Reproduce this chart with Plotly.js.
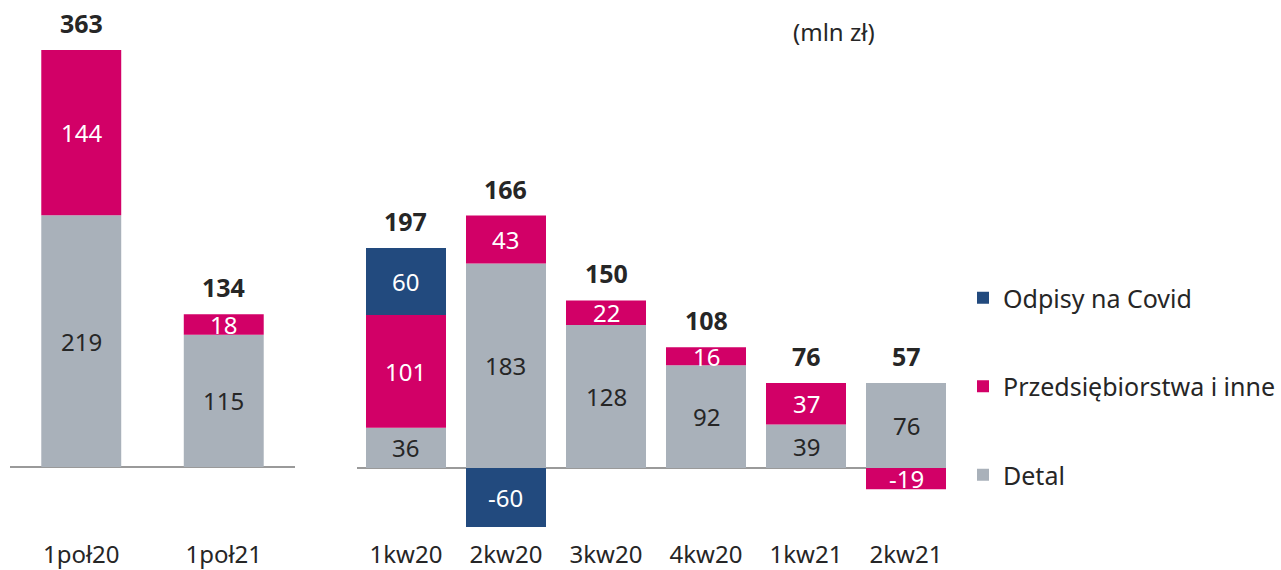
<!DOCTYPE html>
<html>
<head>
<meta charset="utf-8">
<script src="https://cdn.plot.ly/plotly-3.0.1.min.js"></script>
<style>
html,body{margin:0;padding:0;background:#fff;}
#chart{width:1281px;height:570px;}
</style>
</head>
<body>
<div id="chart"></div>
<script>
// ---- data ----
const categoriesHalf = ['1poł20', '1poł21'];
const categoriesQuarter = ['1kw20', '2kw20', '3kw20', '4kw20', '1kw21', '2kw21'];

const detalHalf = [219, 115];
const przedsiebiorstwaHalf = [144, 18];
const covidHalf = [null, null];
const totalsHalf = [363, 134];

const detalQuarter = [36, 183, 128, 92, 39, 76];
const przedsiebiorstwaQuarter = [101, 43, 22, 16, 37, -19];
const covidQuarter = [60, -60, null, null, null, null];
const totalsQuarter = [197, 166, 150, 108, 76, 57];

const seriesNames = ['Detal', 'Przedsiębiorstwa i inne', 'Odpisy na Covid'];
const unitLabel = '(mln zł)';

// ---- styles ----
const FONT = 'Noto Sans, sans-serif';
const TXT = '#262626';
const colors = ['#A9B1BA', '#D20067', '#224A7E'];
const labelColors = [TXT, '#FFFFFF', '#FFFFFF'];
const legendRanks = [3, 2, 1];

const halfSeries = [detalHalf, przedsiebiorstwaHalf, covidHalf];
const quarterSeries = [detalQuarter, przedsiebiorstwaQuarter, covidQuarter];

const W = 1281, H = 570;
const yRangeHalf = [-(H - 467) / 1.149, 467 / 1.149];
const yRangeQuarter = [-(527 - 468) / 1.117, 468 / 1.117];

const traces = [];
const groups = ['d', 'p', 'c'];
for (let s = 0; s < 3; s++) {
  traces.push({
    type: 'bar', x: categoriesHalf, y: halfSeries[s], xaxis: 'x', yaxis: 'y',
    name: seriesNames[s], legendgroup: groups[s], showlegend: s !== 2,
    legendrank: legendRanks[s],
    marker: {color: colors[s], line: {width: 0}}, width: 0.561,
    hoverinfo: 'x+y+name'
  });
  traces.push({
    type: 'bar', x: categoriesQuarter, y: quarterSeries[s], xaxis: 'x2', yaxis: 'y2',
    name: seriesNames[s], legendgroup: groups[s], showlegend: s === 2,
    legendrank: legendRanks[s],
    marker: {color: colors[s], line: {width: 0}}, width: 0.8,
    hoverinfo: 'x+y+name'
  });
}

const annotations = [];
function addLabels(cats, series, totals, xref, yref, yMin) {
  cats.forEach((c, i) => {
    let pos = 0, neg = 0;
    series.forEach((arr, s) => {
      const v = arr[i];
      if (v === null || v === undefined) return;
      let mid;
      if (v >= 0) { mid = pos + v / 2; pos += v; }
      else { const lo = Math.max(neg + v, yMin); mid = (neg + lo) / 2; neg += v; }
      annotations.push({
        x: c, y: mid, xref: xref, yref: yref, text: String(v), showarrow: false,
        font: {family: FONT, size: 24, color: labelColors[s]},
        xanchor: 'center', yanchor: 'middle'
      });
    });
    annotations.push({
      x: c, y: pos, xref: xref, yref: yref, text: '<b>' + totals[i] + '</b>', showarrow: false,
      font: {family: FONT, size: 25, color: TXT},
      xanchor: 'center', yanchor: 'middle', yshift: 27
    });
  });
}
addLabels(categoriesHalf, halfSeries, totalsHalf, 'x', 'y', yRangeHalf[0]);
addLabels(categoriesQuarter, quarterSeries, totalsQuarter, 'x2', 'y2', yRangeQuarter[0]);

annotations.push({
  x: 834 / W, y: 1 - 32 / H, xref: 'paper', yref: 'paper', text: unitLabel,
  showarrow: false, font: {family: FONT, size: 24, color: TXT},
  xanchor: 'center', yanchor: 'middle'
});

const layout = {
  width: W, height: H,
  margin: {l: 0, r: 0, t: 0, b: 0},
  paper_bgcolor: '#fff', plot_bgcolor: 'rgba(0,0,0,0)',
  barmode: 'relative',
  font: {family: FONT, color: TXT},
  showlegend: true,
  legend: {
    x: 1, y: 1 - 275 / H, xanchor: 'right', yanchor: 'top',
    font: {family: FONT, size: 25, color: TXT},
    traceorder: 'grouped', tracegroupgap: 53,
    bgcolor: 'rgba(0,0,0,0)', itemwidth: 30
  },
  xaxis: {
    domain: [10 / W, 295 / W], range: [-0.5, 1.5], type: 'category',
    anchor: 'free', position: 32 / H,
    showline: false, showgrid: false, zeroline: false, ticks: '',
    tickfont: {family: FONT, size: 24, color: TXT}, fixedrange: true
  },
  yaxis: {
    domain: [0, 1], range: yRangeHalf,
    showticklabels: false, showgrid: false, ticks: '', showline: false,
    zeroline: true, zerolinecolor: '#9A9A9A', zerolinewidth: 1.5, fixedrange: true
  },
  xaxis2: {
    domain: [357 / W, 946 / W], range: [-0.49, 5.4], type: 'category',
    anchor: 'free', position: 32 / H,
    showline: false, showgrid: false, zeroline: false, ticks: '',
    tickfont: {family: FONT, size: 24, color: TXT}, fixedrange: true
  },
  yaxis2: {
    domain: [(H - 527) / H, 1], anchor: 'x2', range: yRangeQuarter,
    showticklabels: false, showgrid: false, ticks: '', showline: false,
    zeroline: true, zerolinecolor: '#9A9A9A', zerolinewidth: 1.5, fixedrange: true
  },
  annotations: annotations
};

Plotly.newPlot('chart', traces, layout, {displayModeBar: false, staticPlot: true});
</script>
</body>
</html>
